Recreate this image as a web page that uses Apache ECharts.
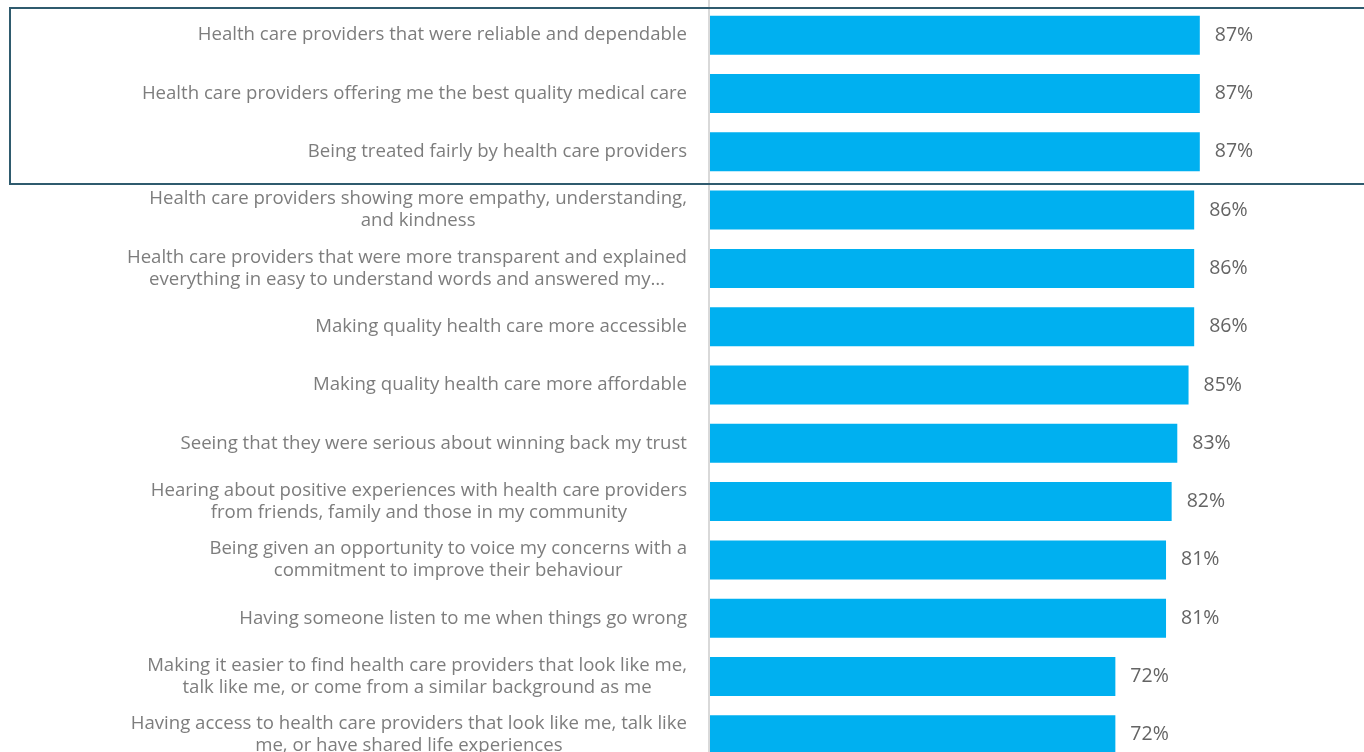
<!DOCTYPE html>
<html>
<head>
<meta charset="utf-8">
<script src="https://cdn.jsdelivr.net/npm/echarts@6/dist/echarts.min.js"></script>
<style>
  html, body { margin: 0; padding: 0; background: #fff; overflow: hidden; }
  /* taller than the window so the last row can run off the bottom edge */
  #chart { width: 1364px; height: 772px; }
</style>
</head>
<body>
<div id="chart"></div>
<script>
const categories = [
  'Health care providers that were reliable and dependable',
  'Health care providers offering me the best quality medical care',
  'Being treated fairly by health care providers',
  'Health care providers showing more empathy, understanding,\nand kindness',
  'Health care providers that were more transparent and explained\neverything in easy to understand words and answered my…',
  'Making quality health care more accessible',
  'Making quality health care more affordable',
  'Seeing that they were serious about winning back my trust',
  'Hearing about positive experiences with health care providers\nfrom friends, family and those in my community',
  'Being given an opportunity to voice my concerns with a\ncommitment to improve their behaviour',
  'Having someone listen to me when things go wrong',
  'Making it easier to find health care providers that look like me,\ntalk like me, or come from a similar background as me',
  'Having access to health care providers that look like me, talk like\nme, or have shared life experiences'
]
const values = [87, 87, 87, 86, 86, 86, 85, 83, 82, 81, 81, 72, 72]

const chart = echarts.init(document.getElementById('chart'))

chart.setOption({
  animation: false,
  grid: {
    left: 710,
    top: 6,
    width: 563,
    height: 758,
  },
  xAxis: {
    type: 'value',
    min: 0,
    max: 100,
    show: false,
  },
  yAxis: {
    type: 'category',
    inverse: true,
    data: categories,
    axisLine: { show: false },
    axisTick: { show: false },
    axisLabel: {
      margin: 23,
      align: 'right',
      // each line centred inside a right-aligned block
      formatter: (v) => v.split('\n').map(s => '{c|' + s + '}').join('\n'),
      rich: {
        c: {
          align: 'center',
          color: '#7d7d7d',
          fontFamily: 'Open Sans',
          fontSize: 18.6,
          lineHeight: 22,
        },
      },
    },
  },
  series: [
    {
      type: 'bar',
      data: values,
      barWidth: 39,
      itemStyle: { color: '#00b0f0' },
      label: {
        show: true,
        position: 'right',
        distance: 15,
        formatter: '{c}%',
        color: '#646464',
        fontFamily: 'Open Sans',
        fontSize: 19.5,
      },
    },
  ],
  graphic: [
    {
      type: 'line',
      shape: { x1: 709, y1: 0, x2: 709, y2: 772 },
      style: { stroke: '#d9d9d9', lineWidth: 2 },
      z: 10,
    },
    {
      type: 'rect',
      shape: { x: 10, y: 8, width: 1370, height: 176 },
      style: { fill: 'none', stroke: '#2f5b6e', lineWidth: 2 },
      z: 11,
    },
  ],
})
</script>
</body>
</html>
